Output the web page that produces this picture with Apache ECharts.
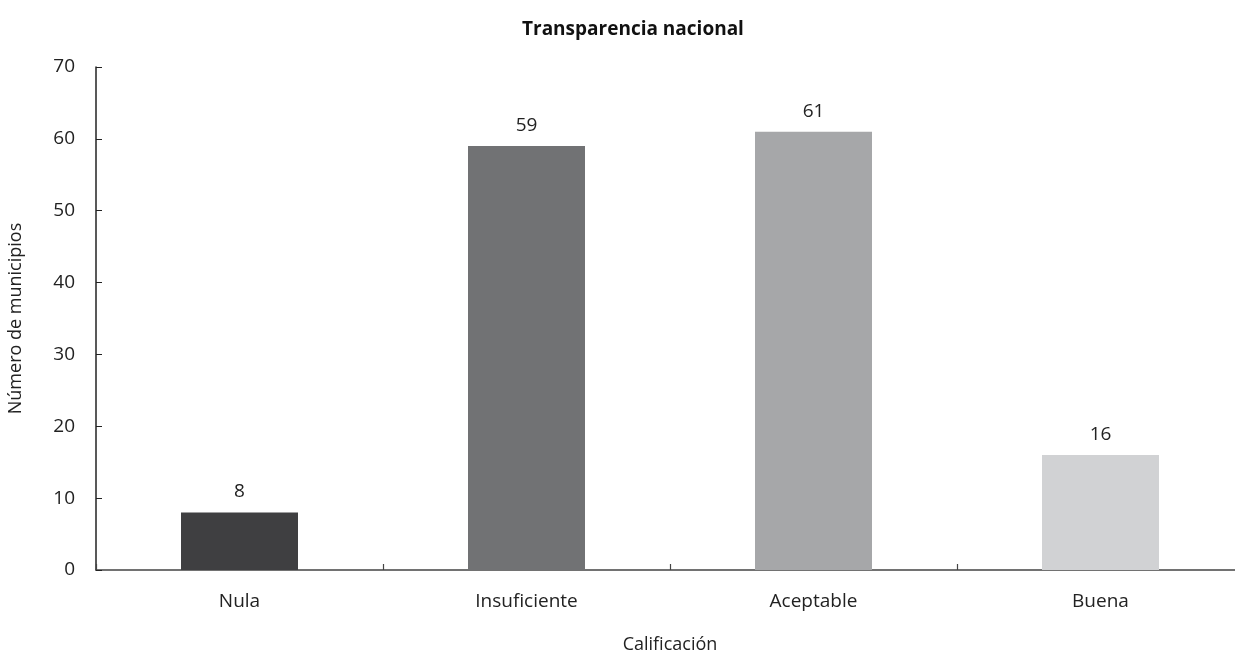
<!DOCTYPE html>
<html>
<head>
<meta charset="utf-8">
<script src="https://cdn.jsdelivr.net/npm/echarts@6/dist/echarts.min.js"></script>
<style>
  html, body { margin: 0; padding: 0; background: #fff; }
  #chart-container { width: 1235px; height: 651px; }
</style>
</head>
<body>
<div id="chart-container"></div>
<script>
// data
var categories = ['Nula', 'Insuficiente', 'Aceptable', 'Buena'];
var municipios = [8, 59, 61, 16];
var barColors = ['#3f3f41', '#717274', '#a6a7a9', '#d1d2d4'];

var dom = document.getElementById('chart-container');
var myChart = echarts.init(dom, null, { renderer: 'canvas' });

var font = '"Open Sans", "Noto Sans", sans-serif';

var option = {
  animation: false,
  title: {
    text: 'Transparencia nacional',
    left: 517,
    top: 15,
    textStyle: { fontFamily: font, fontSize: 19, fontWeight: 'bold', color: '#111' }
  },
  grid: {
    left: 96,
    top: 67,
    bottom: 81,
    width: 1148,
    outerBoundsMode: 'none',
    containLabel: false
  },
  xAxis: {
    type: 'category',
    data: categories,
    name: 'Calificación',
    nameLocation: 'middle',
    nameGap: 66,
    nameTextStyle: { fontFamily: font, fontSize: 18, color: '#222' },
    axisLine: { lineStyle: { color: '#444', width: 1.5 } },
    axisTick: { show: true, inside: true, length: 6, lineStyle: { color: '#444', width: 1.2 } },
    axisLabel: { fontFamily: font, fontSize: 19, color: '#222', margin: 22 }
  },
  yAxis: {
    type: 'value',
    min: 0,
    max: 70,
    interval: 10,
    name: 'Número de municipios',
    nameLocation: 'middle',
    nameGap: 71,
    nameTextStyle: { fontFamily: font, fontSize: 18, color: '#222' },
    axisLine: { show: true, lineStyle: { color: '#222', width: 1.5 } },
    axisTick: { show: true, inside: true, length: 6, lineStyle: { color: '#222' } },
    axisLabel: { fontFamily: font, fontSize: 19, color: '#222', margin: 21 },
    splitLine: { show: false }
  },
  series: [
    {
      type: 'bar',
      barWidth: 117,
      data: municipios.map(function (v, i) {
        return { value: v, itemStyle: { color: barColors[i] } };
      }),
      label: {
        show: true,
        position: 'top',
        distance: 11,
        fontFamily: font,
        fontSize: 19,
        color: '#222'
      }
    }
  ]
};

myChart.setOption(option);
window.addEventListener('resize', myChart.resize);
</script>
</body>
</html>
